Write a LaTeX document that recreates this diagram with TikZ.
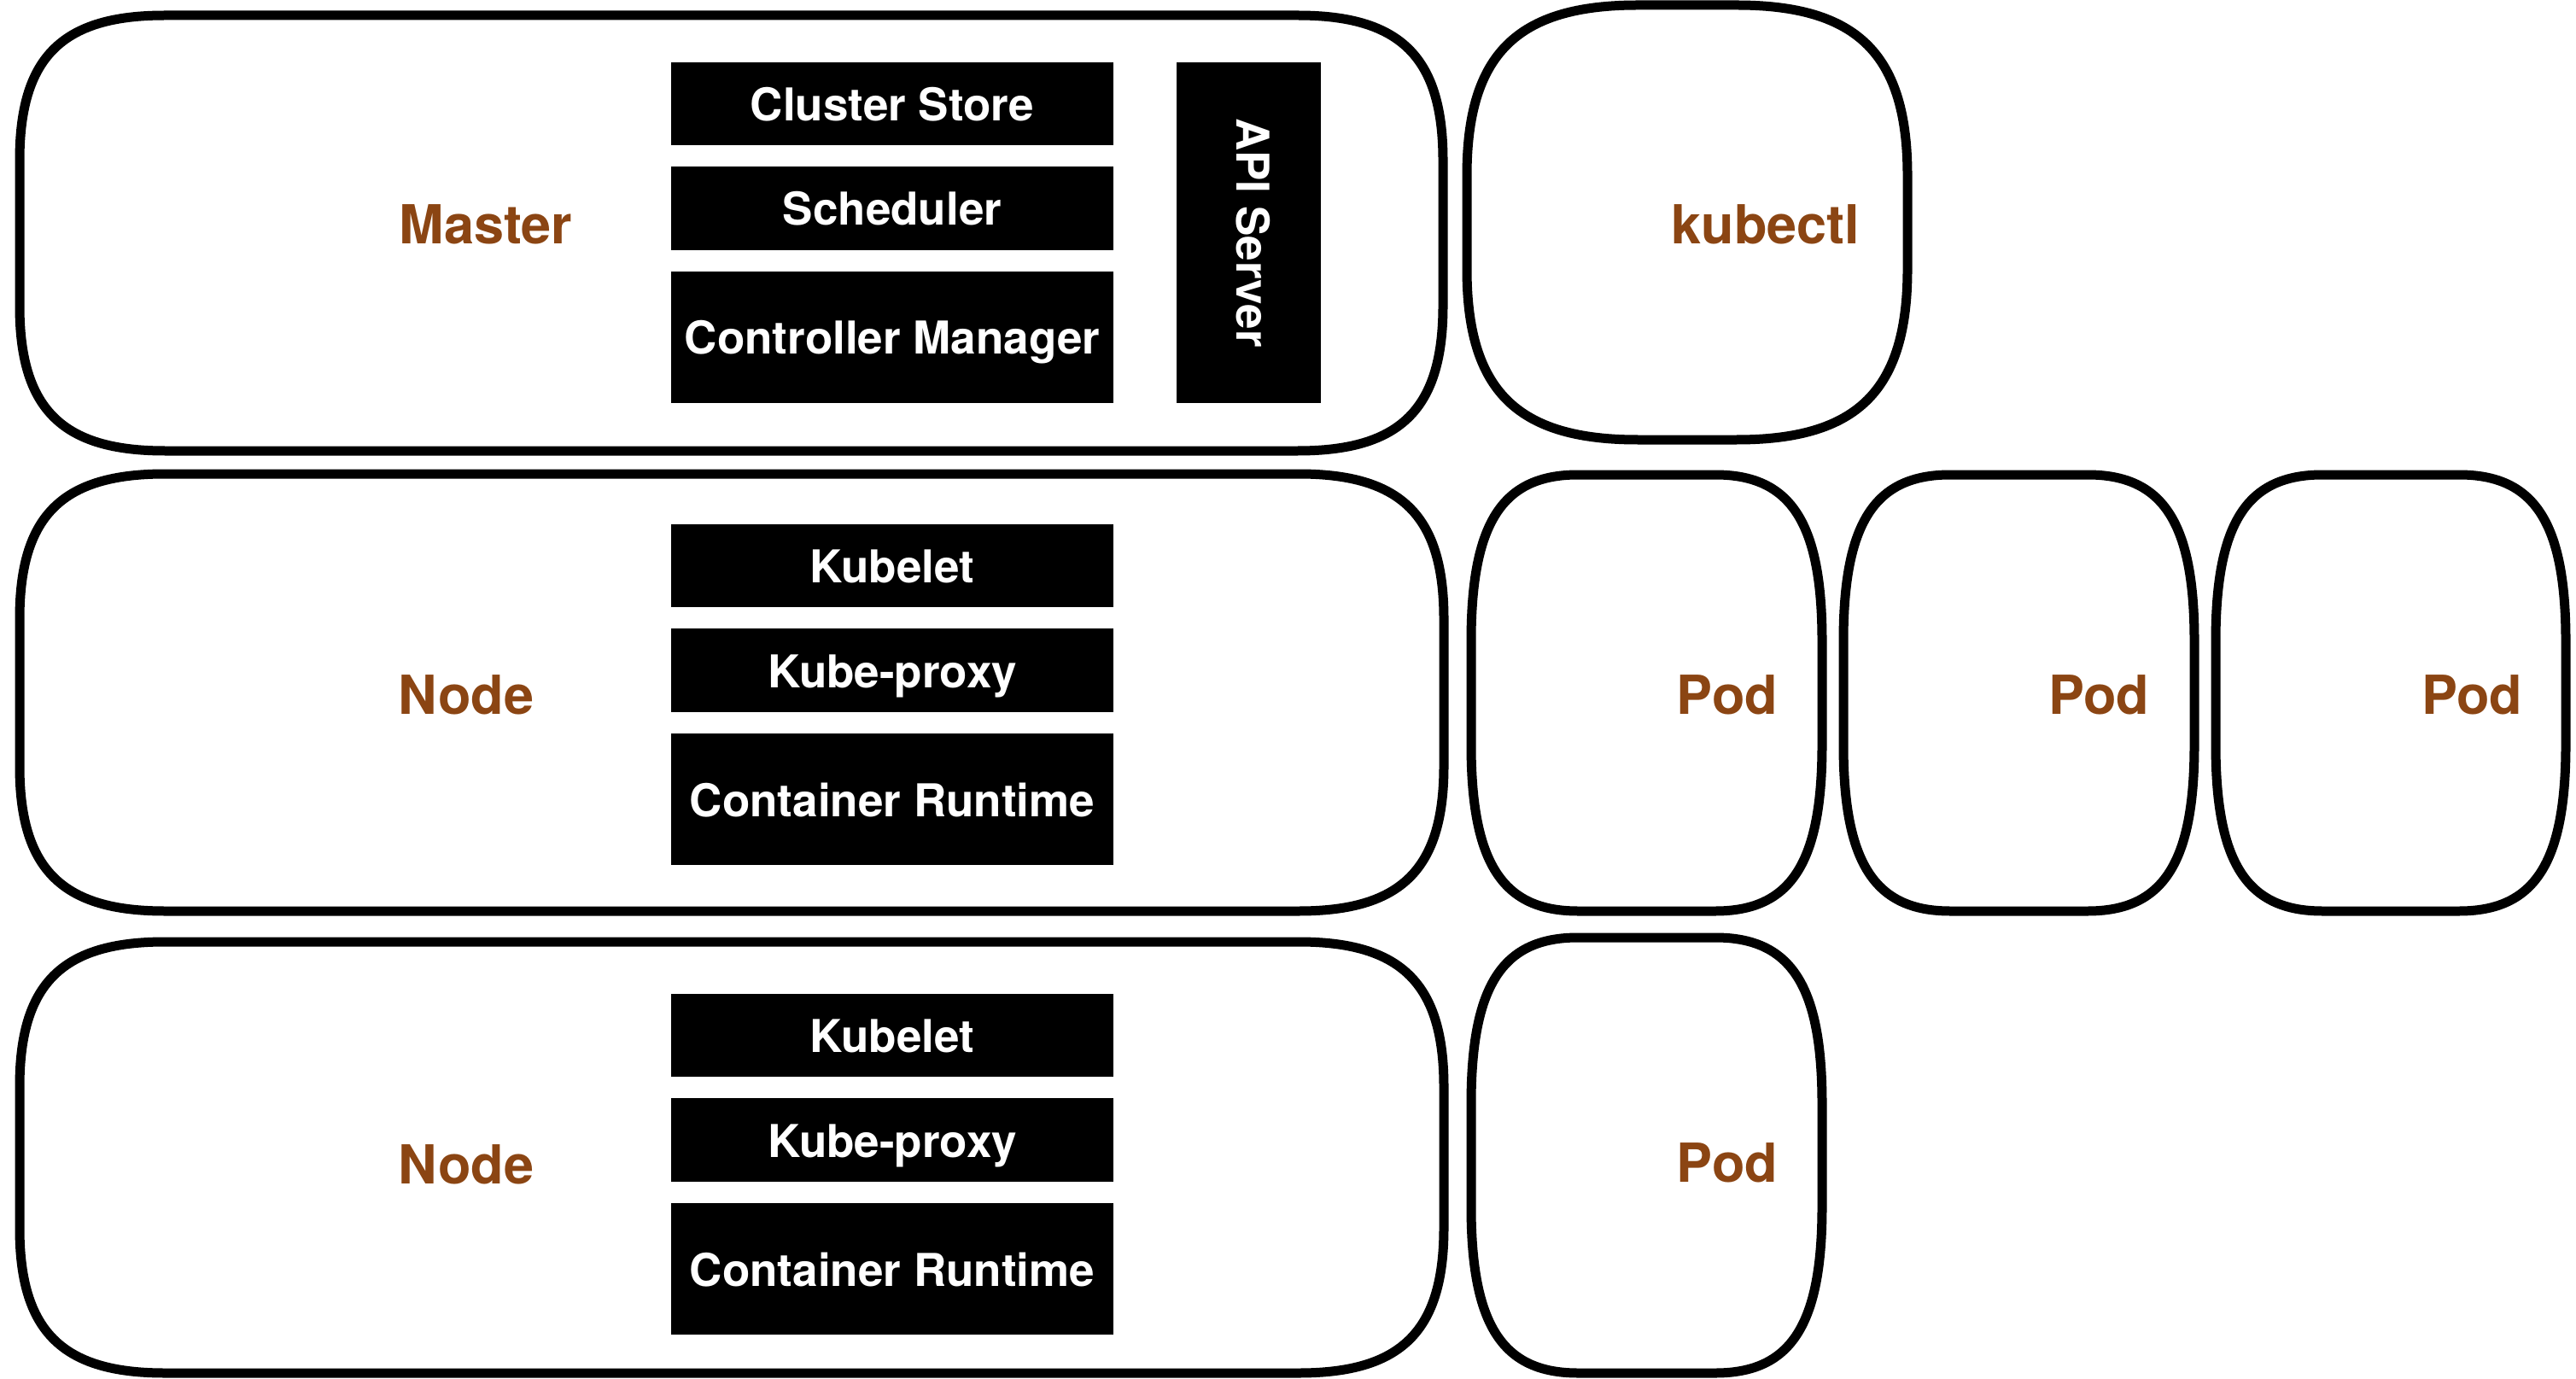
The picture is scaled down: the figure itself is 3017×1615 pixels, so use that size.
\documentclass[tikz,border=0pt]{standalone}
\usepackage{fontspec}
\setmainfont{TeX Gyre Heros}
\definecolor{labelbrown}{RGB}{139,69,19}

% Soft-cornered outline: left, top, right, bottom, corner reach x, corner reach y
\newcommand\softbox[6]{%
  \draw[shell] ({#1},{#2+#6})
    .. controls ({#1},{#2+0.29*#6}) and ({#1+0.29*#5},{#2}) .. ({#1+#5},{#2})
    -- ({#3-#5},{#2})
    .. controls ({#3-0.29*#5},{#2}) and ({#3},{#2+0.29*#6}) .. ({#3},{#2+#6})
    -- ({#3},{#4-#6})
    .. controls ({#3},{#4-0.29*#6}) and ({#3-0.29*#5},{#4}) .. ({#3-#5},{#4})
    -- ({#1+#5},{#4})
    .. controls ({#1+0.29*#5},{#4}) and ({#1},{#4-0.29*#6}) .. ({#1},{#4-#6})
    -- cycle;}

% Black component block: name, left, top, right, bottom, text
\newcommand\component[6]{%
  \node[part, minimum width={(#4-#2)*0.25pt}, minimum height={(#5-#3)*0.25pt}]
    (#1) at ({(#2+#4)/2},{(#3+#5)/2}) {\raisebox{-1.4pt}{#6}};}

\begin{document}
\begin{tikzpicture}[x=0.25pt, y=-0.25pt,
  shell/.style={draw=black, line width=2.75pt, line join=round},
  part/.style={fill=black, text=white, inner sep=0pt, font=\fontsize{13.25}{15}\selectfont\bfseries,
    text height=0.72em, text depth=0pt},
  tag/.style={text=labelbrown, inner sep=0pt, font=\fontsize{15.75}{18}\selectfont\bfseries,
    text height=0.72em, text depth=0pt}]
\useasboundingbox[fill=white] (0,0) rectangle (3017,1615);

% Master
\softbox{23}{18}{1690}{528}{170}{170}
\node[tag] (master) at (569,271) {Master};
\component{store}{786}{73}{1304}{170}{Cluster Store}
\component{sched}{786}{195}{1304}{293}{Scheduler}
\component{ctrl}{786}{318}{1304}{472}{Controller Manager}
\node[part, rotate=-90, minimum width={399*0.25pt}, minimum height={169*0.25pt}]
  (api) at (1462.5,272.5) {API Server};

% kubectl
\softbox{1718}{6}{2234}{515}{200}{200}
\node[tag] (kubectl) at (2068,271) {kubectl};

% First node
\softbox{23}{555}{1691}{1067}{170}{170}
\node[tag] (nodeA) at (546,822) {Node};
\component{kubeletA}{786}{614}{1304}{711}{Kubelet}
\component{proxyA}{786}{736}{1304}{834}{Kube-proxy}
\component{runtimeA}{786}{859}{1304}{1013}{Container Runtime}

% Pods of the first node
\softbox{1723}{556}{2134}{1067}{125}{195}
\node[tag] (podA) at (2023,822) {Pod};
\softbox{2159}{556}{2570}{1067}{125}{195}
\node[tag] (podB) at (2458,822) {Pod};
\softbox{2595}{556}{3005}{1067}{125}{195}
\node[tag] (podC) at (2895,822) {Pod};

% Second node
\softbox{23}{1103}{1691}{1608}{170}{170}
\node[tag] (nodeB) at (546,1372) {Node};
\component{kubeletB}{786}{1164}{1304}{1261}{Kubelet}
\component{proxyB}{786}{1286}{1304}{1384}{Kube-proxy}
\component{runtimeB}{786}{1409}{1304}{1563}{Container Runtime}

% Pod of the second node
\softbox{1723}{1098}{2134}{1608}{125}{195}
\node[tag] (podD) at (2023,1370) {Pod};
\end{tikzpicture}
\end{document}
